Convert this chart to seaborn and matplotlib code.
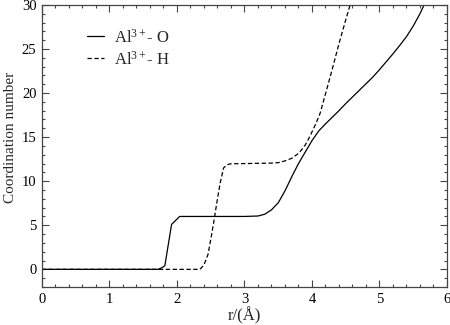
import pandas as pd
import seaborn as sns
import matplotlib
matplotlib.use("Agg")
import matplotlib.pyplot as plt
from matplotlib.ticker import MultipleLocator

# Coordination number Al3+ - O
r_o = [0, 1.72, 1.78, 1.82, 1.92, 2.04, 2.5, 3.0, 3.2, 3.3, 3.4, 3.5, 3.6,
       3.7, 3.8, 3.9, 4.0, 4.1, 4.2, 4.3, 4.4, 4.5, 4.6, 4.7, 4.8, 4.9, 5.0,
       5.1, 5.2, 5.3, 5.4, 5.5, 5.6, 5.68]
cn_o = [0, 0, 0.2, 0.4, 5.1, 6.0, 6.0, 6.0, 6.05, 6.25, 6.75, 7.55, 8.9,
        10.5, 12.0, 13.3, 14.6, 15.7, 16.5, 17.25, 18.0, 18.8, 19.55, 20.3,
        21.05, 21.8, 22.65, 23.55, 24.45, 25.4, 26.4, 27.6, 29.0, 30.3]

# Coordination number Al3+ - H
r_h = [0, 2.34, 2.40, 2.46, 2.51, 2.55, 2.59, 2.64, 2.69, 2.74, 2.79, 3.0,
       3.38, 3.5, 3.6, 3.7, 3.8, 3.85, 3.9, 3.97, 4.05, 4.12, 4.2, 4.3, 4.4,
       4.5, 4.58]
cn_h = [0, 0, 0.5, 1.7, 3.8, 5.6, 7.55, 9.8, 11.5, 11.85, 11.97, 12.0,
        12.05, 12.1, 12.3, 12.6, 13.15, 13.6, 14.1, 15.1, 16.4, 17.7, 19.9,
        22.7, 25.6, 28.3, 30.4]

df_o = pd.DataFrame({"r": r_o, "cn": cn_o})
df_h = pd.DataFrame({"r": r_h, "cn": cn_h})

sns.set_style("ticks")
plt.rcParams["font.family"] = ["Liberation Serif", "DejaVu Serif"]
plt.rcParams["mathtext.fontset"] = "custom"
plt.rcParams["mathtext.rm"] = "Liberation Serif"
plt.rcParams["mathtext.it"] = "Liberation Serif:italic"

fig = plt.figure(figsize=(4.5, 3.25), dpi=100)
ax = fig.add_axes([0.0933, 0.117, 0.9, 0.868])

sns.lineplot(data=df_o, x="r", y="cn", ax=ax, color="black", lw=0.9,
             sort=False, estimator=None, label="Al$^{3+}$- O")
sns.lineplot(data=df_h, x="r", y="cn", ax=ax, color="black", lw=0.9,
             linestyle=(0, (3.5, 2.0)), sort=False, estimator=None,
             label="Al$^{3+}$- H")

ax.set_xlim(0, 6)
ax.set_ylim(-2, 30)
ax.xaxis.set_major_locator(MultipleLocator(1))
ax.xaxis.set_minor_locator(MultipleLocator(0.2))
ax.yaxis.set_major_locator(MultipleLocator(5))
ax.yaxis.set_minor_locator(MultipleLocator(1))
ax.tick_params(which="both", direction="in", top=True, right=True,
               width=0.8, colors="#444444", labelcolor="black")
ax.tick_params(which="major", length=5, labelsize=10.5, pad=4)
ax.tick_params(which="minor", length=2.5)
for s in ax.spines.values():
    s.set_linewidth(0.9)
    s.set_color("#444444")

ax.set_xlabel("r/(Å)", fontsize=12, labelpad=1)
ax.set_ylabel("Coordination number", fontsize=11)
ax.yaxis.set_label_coords(-0.062, 0.53)

ax.legend(loc="upper left", bbox_to_anchor=(0.075, 0.97), frameon=False,
          fontsize=12, handlelength=1.0, handletextpad=0.6, labelspacing=0.25)

fig.savefig("out.png", dpi=100)
